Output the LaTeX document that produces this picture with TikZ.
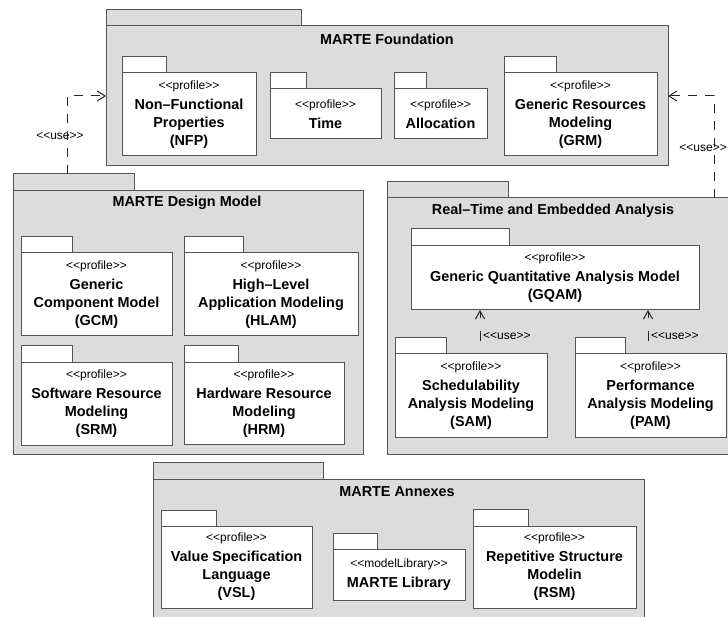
\documentclass[tikz,border=0pt]{standalone}
\usepackage{fontspec}
\setmainfont{Liberation Sans}[Ligatures=TeXOff]
\usetikzlibrary{arrows.meta}
\definecolor{pkgfill}{RGB}{220,220,220}
\definecolor{pkgline}{RGB}{85,85,85}
\newcommand{\stereo}[1]{{\mdseries\fontsize{12}{14}\selectfont <<#1>>}\\[2pt]}

\begin{document}
\begin{tikzpicture}[x=1pt, y=-1pt,
		pkg/.style={shape=rectangle, draw=pkgline, line width=1pt, fill=pkgfill, inner sep=0pt, outer sep=0pt, anchor=north west},
		tab/.style={pkg, anchor=south west},
		prof/.style={pkg, fill=white, align=center, font=\bfseries\fontsize{14.4}{18}\selectfont},
		proftab/.style={tab, fill=white},
		title/.style={font=\bfseries\fontsize{14.4}{18}\selectfont, inner sep=0pt},
		uselabel/.style={font=\fontsize{12}{14}\selectfont, inner sep=0pt},
		usedep/.style={draw=black!85, line width=1pt, dash pattern=on 9pt off 8pt, -{Straight Barb[length=8pt,width=10pt]}},
		useinner/.style={draw=black!85, line width=1pt, dash pattern=on 10pt off 13pt, dash phase=10pt, -{Straight Barb[length=8pt,width=9pt]}}]
				\useasboundingbox (0,0) rectangle (728,617);
				% MARTE Foundation:
				\node[pkg, minimum width=562pt, minimum height=140pt] (found) at (106,26) {};
				\node[tab, minimum width=195pt, minimum height=16pt] (foundtab) at (found.north west) {};
				\node[title] (foundtitle) at (387,39) {MARTE Foundation};
				\node[prof, minimum width=134pt, minimum height=83pt] (nfp) at (122,73) {\stereo{profile}Non–Functional\\Properties\\(NFP)};
				\node[proftab, minimum width=44pt, minimum height=16pt] (nfptab) at (nfp.north west) {};
				\node[prof, minimum width=111pt, minimum height=50pt] (time) at (270,89) {\stereo{profile}Time};
				\node[proftab, minimum width=36pt, minimum height=16pt] (timetab) at (time.north west) {};
				\node[prof, minimum width=93pt, minimum height=50pt] (alloc) at (394,89) {\stereo{profile}Allocation};
				\node[proftab, minimum width=32pt, minimum height=16pt] (alloctab) at (alloc.north west) {};
				\node[prof, minimum width=153pt, minimum height=83pt] (grm) at (504,73) {\stereo{profile}Generic Resources\\Modeling\\(GRM)};
				\node[proftab, minimum width=52pt, minimum height=16pt] (grmtab) at (grm.north west) {};
				% MARTE Design Model:
				\node[pkg, minimum width=350pt, minimum height=263pt] (design) at (13,191) {};
				\node[tab, minimum width=121pt, minimum height=17pt] (designtab) at (design.north west) {};
				\node[title] (designtitle) at (187,203) {MARTE Design Model};
				\node[prof, minimum width=151pt, minimum height=83pt] (gcm) at (21,253) {\stereo{profile}Generic\\Component Model\\(GCM)};
				\node[proftab, minimum width=51pt, minimum height=16pt] (gcmtab) at (gcm.north west) {};
				\node[prof, minimum width=174pt, minimum height=83pt] (hlam) at (184,253) {\stereo{profile}High–Level\\Application Modeling\\(HLAM)};
				\node[proftab, minimum width=59pt, minimum height=16pt] (hlamtab) at (hlam.north west) {};
				\node[prof, minimum width=151pt, minimum height=82pt] (srm) at (21,363) {\stereo{profile}Software Resource\\Modeling\\(SRM)};
				\node[proftab, minimum width=51pt, minimum height=17pt] (srmtab) at (srm.north west) {};
				\node[prof, minimum width=160pt, minimum height=81pt] (hrm) at (184,363) {\stereo{profile}Hardware Resource\\Modeling\\(HRM)};
				\node[proftab, minimum width=54pt, minimum height=17pt] (hrmtab) at (hrm.north west) {};
				% Real-Time and Embedded Analysis:
				\node[pkg, minimum width=360pt, minimum height=256pt] (rtea) at (387,198) {};
				\node[tab, minimum width=121pt, minimum height=16pt] (rteatab) at (rtea.north west) {};
				\node[title] (rteatitle) at (553,211) {Real–Time and Embedded Analysis};
				\node[prof, minimum width=288pt, minimum height=64pt] (gqam) at (411,246) {\stereo{profile}Generic Quantitative Analysis Model\\(GQAM)};
				\node[proftab, minimum width=98pt, minimum height=17pt] (gqamtab) at (gqam.north west) {};
				\node[prof, minimum width=152pt, minimum height=83pt] (sam) at (395,354) {\stereo{profile}Schedulability\\Analysis Modeling\\(SAM)};
				\node[proftab, minimum width=51pt, minimum height=16pt] (samtab) at (sam.north west) {};
				\node[prof, minimum width=151pt, minimum height=83pt] (pam) at (575,354) {\stereo{profile}Performance\\Analysis Modeling\\(PAM)};
				\node[proftab, minimum width=50pt, minimum height=16pt] (pamtab) at (pam.north west) {};
				% MARTE Annexes:
				\node[pkg, minimum width=491pt, minimum height=150pt] (annex) at (153,479) {};
				\node[tab, minimum width=170pt, minimum height=17pt] (annextab) at (annex.north west) {};
				\node[title] (annextitle) at (397,492) {MARTE Annexes};
				\node[prof, minimum width=151pt, minimum height=82pt] (vsl) at (161,526) {\stereo{profile}Value Specification\\Language\\(VSL)};
				\node[proftab, minimum width=55pt, minimum height=16pt] (vsltab) at (vsl.north west) {};
				\node[prof, minimum width=132pt, minimum height=51pt] (mlib) at (333,549) {\stereo{modelLibrary}MARTE Library};
				\node[proftab, minimum width=44pt, minimum height=16pt] (mlibtab) at (mlib.north west) {};
				\node[prof, minimum width=163pt, minimum height=82pt] (rsm) at (473,526) {\stereo{profile}Repetitive Structure\\Modelin\\(RSM)};
				\node[proftab, minimum width=55pt, minimum height=17pt] (rsmtab) at (rsm.north west) {};
				% Use dependencies:
				\coordinate (useL) at (67,174);
				\coordinate (useR) at (714,198);
				\coordinate (samuse) at (480,354);
				\coordinate (pamuse) at (648,354);
				\draw[usedep] (useL) |- (found.west);
				\draw[usedep] (useR) |- (found.east);
				\draw[useinner] (samuse) -- (samuse |- gqam.south);
				\draw[useinner] (pamuse) -- (pamuse |- gqam.south);
				\node[uselabel] (useLlabel) at (60,136) {<<use>>};
				\node[uselabel, anchor=east] (useRlabel) at (727,148) {<<use>>};
				\node[uselabel, anchor=west] (samlabel) at (483,336) {<<use>>};
				\node[uselabel, anchor=west] (pamlabel) at (651,336) {<<use>>};
			\end{tikzpicture}
\end{document}
